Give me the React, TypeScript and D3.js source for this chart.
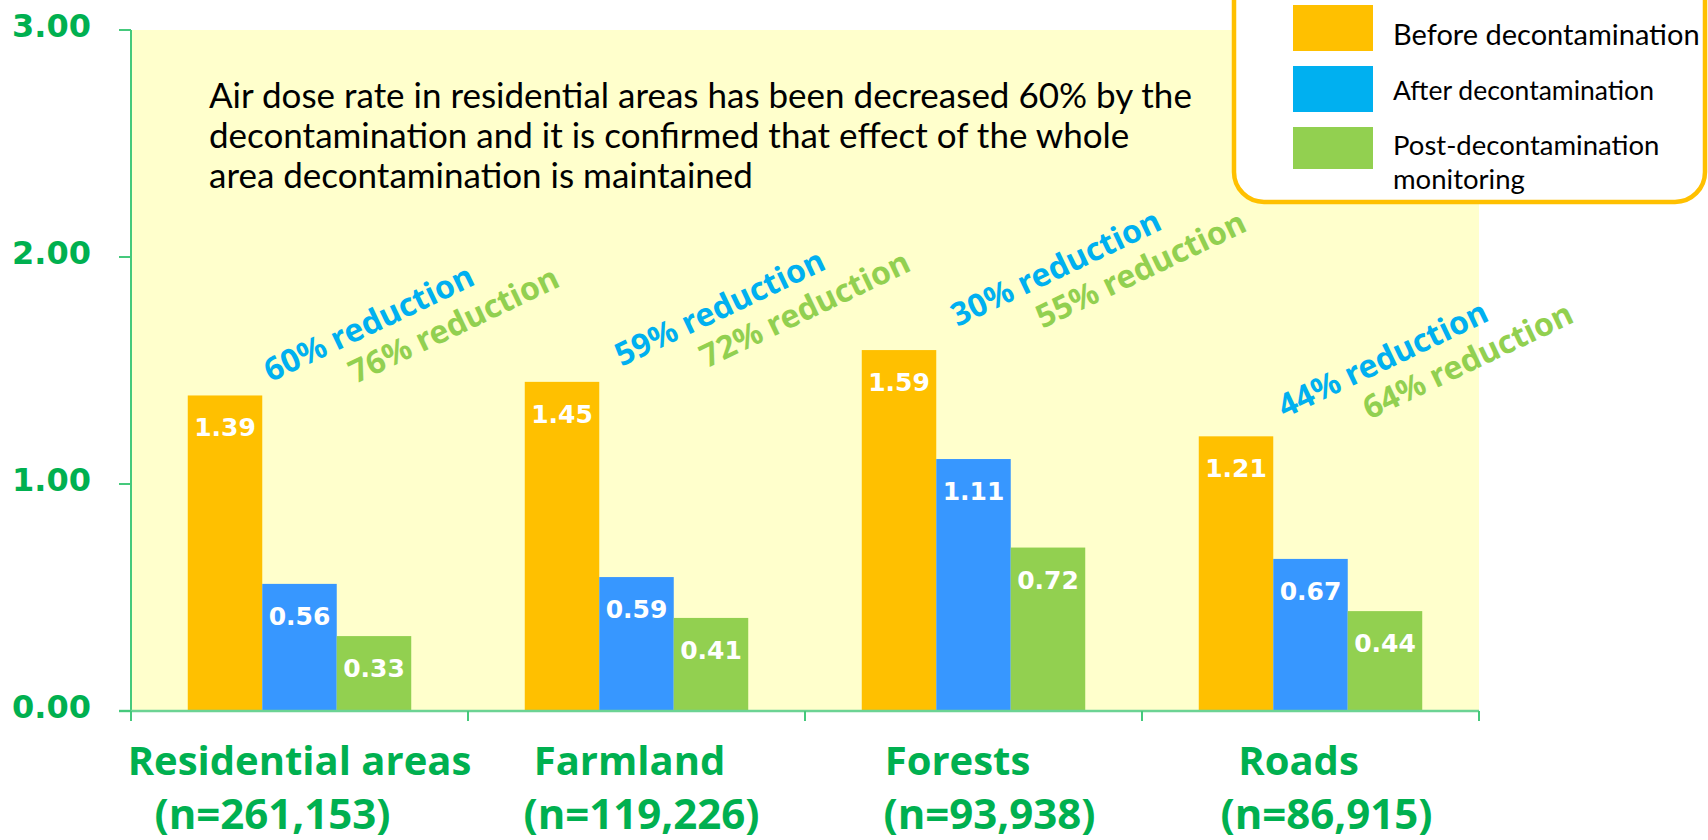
import React from 'react';
import * as d3 from 'd3';

const categories = ['Residential areas', 'Farmland', 'Forests', 'Roads'];
const sampleCounts = ['(n=261,153)', '(n=119,226)', '(n=93,938)', '(n=86,915)'];
const seriesKeys = ['before', 'after', 'post'];
const before = [1.39, 1.45, 1.59, 1.21];
const after = [0.56, 0.59, 1.11, 0.67];
const post = [0.33, 0.41, 0.72, 0.44];
const afterReduction = ['60% reduction', '59% reduction', '30% reduction', '44% reduction'];
const postReduction = ['76% reduction', '72% reduction', '55% reduction', '64% reduction'];
const yTicks = [0, 1, 2, 3];
const legendLabels = [['Before decontamination'], ['After decontamination'], ['Post-decontamination', 'monitoring']];
const noteLines = [
  'Air dose rate in residential areas has been decreased 60% by the',
  'decontamination and it is confirmed that effect of the whole',
  'area decontamination is maintained',
];

// layout nudges (text boxes in the original are not perfectly centred)
const nameDx = [0, -7, -16, -12];
const countDx = [-27, 5, 16, 16];
const reduxDx = [-29, -15, -16, -26];
const reduxDy = [-13, -15, -23, -18];
const legendFont = [29, 26.5, 27.5];

const W = 1708;
const H = 840;
const plot = { left: 131, right: 1479, top: 30, bottom: 711 };
const barColors = ['#FFC000', '#3797FF', '#92D050'];
const legendColors = ['#FFC000', '#00B0F0', '#92D050'];
const green = '#00B050';
const axisGreen = '#45C97C';

export default function App() {
  const values = [before, after, post];
  const y = d3.scaleLinear().domain([0, 3]).range([plot.bottom, plot.top]);
  const x = d3.scaleBand<string>().domain(categories).range([plot.left, plot.right]).padding(0);
  const bw = x.bandwidth();
  const xi = d3.scaleBand<string>().domain(seriesKeys).range([0, bw]).paddingInner(0).paddingOuter(0.762);
  const boundaries = [...categories.map((c) => x(c) as number), plot.right];

  return (
    <svg
      width={W}
      height={H}
      style={{ position: 'absolute', left: 0, top: 0, background: '#fff' }}
      xmlns="http://www.w3.org/2000/svg"
    >
      <rect x={plot.left} y={plot.top} width={plot.right - plot.left} height={plot.bottom - plot.top} fill="#FFFFCC" />

      {/* bars */}
      {categories.map((c, ci) =>
        seriesKeys.map((k, si) => {
          const v = values[si][ci];
          const bx = (x(c) as number) + (xi(k) as number);
          return (
            <g key={c + k}>
              <rect x={bx} y={y(v)} width={xi.bandwidth()} height={y(0) - y(v)} fill={barColors[si]} />
              <text
                x={bx + xi.bandwidth() / 2}
                y={y(v) + 41}
                textAnchor="middle"
                fill="#fff"
                fontFamily="DejaVu Sans, Verdana, sans-serif"
                fontWeight="bold"
                fontSize={25}
              >
                {v.toFixed(2)}
              </text>
            </g>
          );
        })
      )}

      {/* axes */}
      <line x1={plot.left} x2={plot.left} y1={plot.top} y2={plot.bottom + 10} stroke={axisGreen} strokeWidth={2} />
      <line x1={119} x2={plot.right} y1={plot.bottom} y2={plot.bottom} stroke="#6CD394" strokeWidth={2.5} />
      {yTicks.map((t) => (
        <g key={t}>
          <line x1={119} x2={plot.left} y1={y(t)} y2={y(t)} stroke={axisGreen} strokeWidth={2} />
          <text
            x={12}
            y={y(t) + 6.5}
            fill={green}
            fontFamily="DejaVu Sans, Verdana, sans-serif"
            fontWeight="bold"
            fontSize={32}
          >
            {t.toFixed(2)}
          </text>
        </g>
      ))}
      {boundaries.map((bx, i) => (
        <line key={i} x1={bx} x2={bx} y1={plot.bottom} y2={plot.bottom + 10} stroke={axisGreen} strokeWidth={2} />
      ))}

      {/* category labels */}
      {categories.map((c, ci) => {
        const cx = (x(c) as number) + bw / 2;
        return (
          <g key={c} fill={green} fontFamily="Open Sans, sans-serif" fontWeight="bold" textAnchor="middle">
            <text x={cx + nameDx[ci]} y={775} fontSize={40}>{c}</text>
            <text x={cx + countDx[ci]} y={829} fontSize={42}>{sampleCounts[ci]}</text>
          </g>
        );
      })}

      {/* reduction labels */}
      {categories.map((c, ci) => {
        const cx = (x(c) as number) + bw / 2 + reduxDx[ci];
        const cy = y(before[ci]) + reduxDy[ci];
        return (
          <g key={c} transform={`translate(${cx},${cy}) rotate(-25.5)`} fontFamily="Noto Sans, sans-serif" fontWeight="bold" fontSize={32}>
            <text x={0} y={0} fill="#00B0F0">{afterReduction[ci]}</text>
            <text x={76} y={38} fill="#92D050">{postReduction[ci]}</text>
          </g>
        );
      })}

      {/* note */}
      <g fontFamily="Lato, sans-serif" fontSize={35} fill="#000">
        {noteLines.map((l, i) => (
          <text key={i} x={209} y={108 + i * 40}>{l}</text>
        ))}
      </g>

      {/* legend */}
      <rect x={1234} y={-40} width={471} height={242} rx={30} ry={30} fill="#fff" stroke="#FFC000" strokeWidth={4.5} />
      {legendLabels.map((lines, i) => (
        <g key={i}>
          <rect x={1293} y={5 + i * 61} width={80} height={i === 2 ? 42 : 46} fill={legendColors[i]} />
          {lines.map((l, j) => (
            <text
              key={j}
              x={1393}
              y={45 + i * 55 + j * 34}
              fontFamily="Lato, sans-serif"
              fontSize={legendFont[i]}
              fill="#000"
            >
              {l}
            </text>
          ))}
        </g>
      ))}
    </svg>
  );
}
